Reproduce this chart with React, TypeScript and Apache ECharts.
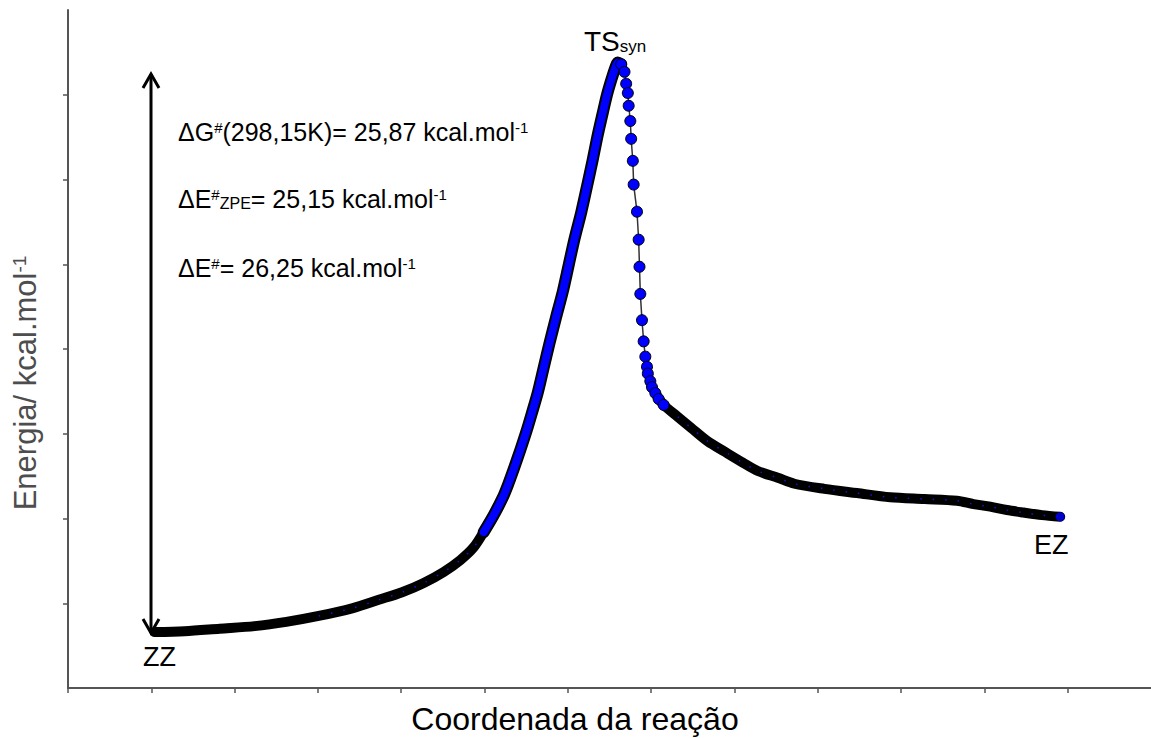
import React, { useEffect, useRef } from "react";
import * as echarts from "echarts";

// Axis ticks (no tick labels in the original)
const xTicks = [0, 1, 2, 3, 4, 5, 6, 7, 8, 9, 10, 11, 12];
const yTicks = [1, 2, 3, 4, 5, 6, 7];

// IRC profile: [reaction coordinate, energy]
const leftWell = [
  [1.04, 0.66], [1.4, 0.67], [1.82, 0.7], [2.24, 0.73], [2.62, 0.78], [3.01, 0.85],
  [3.41, 0.94], [3.73, 1.04], [4.01, 1.13], [4.27, 1.24], [4.51, 1.37], [4.71, 1.51],
  [4.87, 1.66], [4.99, 1.84],
];
const ascent = [
  [4.99, 1.84], [5.11, 2.04], [5.22, 2.25], [5.29, 2.42], [5.36, 2.61], [5.43, 2.81],
  [5.5, 3.02], [5.57, 3.25], [5.64, 3.49], [5.71, 3.78], [5.78, 4.07], [5.86, 4.38],
  [5.94, 4.68], [6.01, 4.99], [6.08, 5.3], [6.16, 5.61], [6.23, 5.92], [6.3, 6.24],
  [6.36, 6.53], [6.42, 6.79], [6.47, 7.0], [6.52, 7.17], [6.57, 7.32], [6.6, 7.38],
  [6.64, 7.36],
];
const descent = [
  [6.64, 7.36], [6.68, 7.27], [6.7, 7.13], [6.72, 7.02], [6.73, 6.87], [6.75, 6.69],
  [6.76, 6.48], [6.78, 6.22], [6.79, 5.94], [6.83, 5.62], [6.85, 5.29], [6.86, 4.97],
  [6.87, 4.65], [6.89, 4.34], [6.91, 4.09], [6.93, 3.91], [6.95, 3.79], [6.96, 3.71],
  [6.99, 3.62], [7.01, 3.55], [7.05, 3.48], [7.09, 3.41], [7.15, 3.34],
];
const rightWell = [
  [7.05, 3.48], [7.15, 3.34], [7.32, 3.2], [7.48, 3.07], [7.68, 2.91], [7.88, 2.79],
  [8.1, 2.66], [8.28, 2.56], [8.52, 2.48], [8.72, 2.41], [9.08, 2.35], [9.47, 2.3],
  [9.87, 2.25], [10.28, 2.23], [10.67, 2.21], [10.87, 2.17], [11.07, 2.14], [11.27, 2.1],
  [11.47, 2.07], [11.69, 2.04], [11.91, 2.02],
];

// Texts
const xTitle = "Coordenada da reação";
const yTitle = "Energia/ kcal.mol{sup|-1}";
const energyLines = [
  "ΔG{sup|#}(298,15K)= 25,87 kcal.mol{sup|-1}",
  "ΔE{sup|#}{sub|ZPE}= 25,15 kcal.mol{sup|-1}",
  "ΔE{sup|#}= 26,25 kcal.mol{sup|-1}",
];
const tsLabel = "TS{sub|syn}";
const startLabel = "ZZ";
const endLabel = "EZ";

const FONT = "Liberation Sans, Arial, sans-serif";
const BLUE = "#0000ff";

const rich = (size: number) => ({
  sup: { fontSize: Math.round(size * 0.6), fontFamily: FONT, verticalAlign: "top" },
  sub: {
    fontSize: Math.round(size * 0.62),
    fontFamily: FONT,
    verticalAlign: "bottom",
    lineHeight: Math.round(size * 0.4),
  },
});

export default function App() {
  const ref = useRef<HTMLDivElement>(null);

  useEffect(() => {
    const chart = echarts.init(ref.current as HTMLDivElement, null, { renderer: "svg" });

    const axisColor = "#555555";
    const bandLine = (name: string, data: number[][]) => ({
      type: "line",
      name,
      data,
      symbol: "none",
      smooth: 0.3,
      silent: true,
      lineStyle: { color: "#000", width: 10, cap: "round", join: "round" },
      z: 2,
    });
    const speckLine = (name: string, data: number[][]) => ({
      type: "line",
      name,
      data,
      symbol: "none",
      smooth: 0.3,
      silent: true,
      lineStyle: { color: "#1a1aff", width: 1.5, type: [1.5, 11], opacity: 0.8 },
      z: 3,
    });

    const option: any = {
      animation: false,
      backgroundColor: "#ffffff",
      grid: { left: 68, top: 10, width: 1087, height: 678, containLabel: false },
      xAxis: {
        type: "value",
        min: 0,
        max: 13,
        interval: 1,
        axisLine: { show: true, onZero: false, lineStyle: { color: axisColor, width: 2 } },
        axisTick: {
          show: true,
          length: 5,
          inside: false,
          customValues: xTicks,
          lineStyle: { color: axisColor, width: 1.5 },
        },
        axisLabel: { show: false },
        splitLine: { show: false },
      },
      yAxis: {
        type: "value",
        min: 0,
        max: 8,
        interval: 1,
        axisLine: { show: true, onZero: false, lineStyle: { color: axisColor, width: 2 } },
        axisTick: {
          show: true,
          length: 5,
          inside: false,
          customValues: yTicks,
          lineStyle: { color: axisColor, width: 1.5 },
        },
        axisLabel: { show: false },
        splitLine: { show: false },
      },
      series: [
        bandLine("leftWell", leftWell),
        bandLine("rightWell", rightWell),
        speckLine("leftWellSpecks", leftWell.slice(5)),
        speckLine("rightWellSpecks", rightWell.slice(2)),
        {
          type: "line",
          name: "ascentOutline",
          data: ascent,
          symbol: "none",
          smooth: 0.3,
          silent: true,
          lineStyle: { color: "#000", width: 12, cap: "round", join: "round" },
          z: 3,
        },
        {
          type: "line",
          name: "ascent",
          data: ascent,
          symbol: "none",
          smooth: 0.3,
          silent: true,
          lineStyle: { color: BLUE, width: 8, cap: "round", join: "round" },
          z: 4,
        },
        {
          type: "line",
          name: "descent",
          data: descent,
          symbol: "circle",
          symbolSize: 11,
          showSymbol: true,
          showAllSymbol: true,
          silent: true,
          lineStyle: { color: "#333", width: 1.5 },
          itemStyle: { color: BLUE, borderColor: "#000", borderWidth: 1 },
          z: 5,
        },
        {
          type: "scatter",
          name: "endPoint",
          data: [rightWell[rightWell.length - 1]],
          symbol: "circle",
          symbolSize: 9,
          silent: true,
          itemStyle: { color: BLUE },
          z: 6,
        },
      ],
      graphic: [
        // double-headed arrow (barrier height)
        {
          type: "line",
          shape: { x1: 151, y1: 74, x2: 151, y2: 633 },
          style: { stroke: "#000", lineWidth: 3 },
        },
        {
          type: "polyline",
          shape: { points: [[143, 88], [151, 74], [159, 88]] },
          style: { stroke: "#000", lineWidth: 3, fill: null },
        },
        {
          type: "polyline",
          shape: { points: [[143, 619], [151, 633], [159, 619]] },
          style: { stroke: "#000", lineWidth: 3, fill: null },
        },
        ...energyLines.map((t, i) => ({
          type: "text",
          x: 178,
          y: [132, 199, 268][i],
          style: {
            text: t,
            fontSize: 25,
            fontFamily: FONT,
            fill: "#000",
            align: "left",
            verticalAlign: "middle",
            rich: rich(25),
          },
        })),
        {
          type: "text",
          x: 584,
          y: 41,
          style: {
            text: tsLabel,
            fontSize: 28,
            fontFamily: FONT,
            fill: "#000",
            align: "left",
            verticalAlign: "middle",
            rich: rich(28),
          },
        },
        {
          type: "text",
          x: 143,
          y: 657,
          style: { text: startLabel, fontSize: 27, fontFamily: FONT, fill: "#000", align: "left", verticalAlign: "middle" },
        },
        {
          type: "text",
          x: 1034,
          y: 545,
          style: { text: endLabel, fontSize: 27, fontFamily: FONT, fill: "#000", align: "left", verticalAlign: "middle" },
        },
        {
          type: "text",
          x: 575,
          y: 719,
          style: { text: xTitle, fontSize: 32, fontFamily: FONT, fill: "#000", align: "center", verticalAlign: "middle" },
        },
        {
          type: "text",
          x: 25,
          y: 383,
          rotation: Math.PI / 2,
          style: {
            text: yTitle,
            fontSize: 31,
            fontFamily: FONT,
            fill: "#4d4d4d",
            align: "center",
            verticalAlign: "middle",
            rich: {
              sup: { fontSize: 19, fontFamily: FONT, fill: "#4d4d4d", verticalAlign: "top" },
            },
          },
        },
      ],
    };

    chart.setOption(option);
    return () => chart.dispose();
  }, []);

  return (
    <div
      ref={ref}
      style={{ position: "absolute", left: 0, top: 0, width: 1151, height: 738, background: "#fff" }}
    />
  );
}
